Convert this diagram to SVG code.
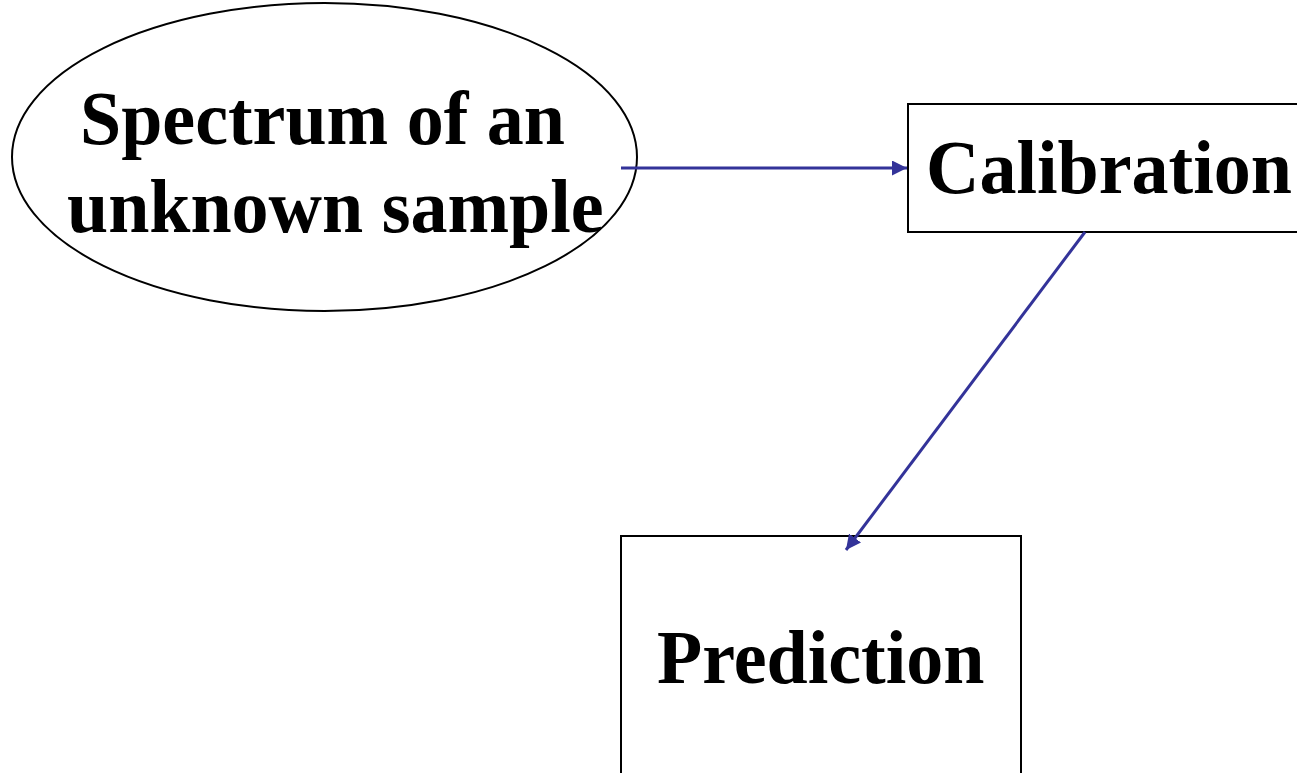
<svg xmlns="http://www.w3.org/2000/svg" width="1297" height="773" viewBox="0 0 1297 773">
  <style>
    .shape { fill: #ffffff; stroke: #000000; stroke-width: 2; }
    .label { font-family: "Liberation Serif", "Times New Roman", serif; font-weight: bold; font-size: 74px; fill: #000000; }
    .conn { stroke: #333399; stroke-width: 3; fill: none; }
  </style>
  <defs>
    <marker id="arrow" viewBox="0 0 10 10" refX="10" refY="5" markerWidth="5" markerHeight="5" markerUnits="strokeWidth" orient="auto">
      <path d="M0,0 L10,5 L0,10 Z" fill="#333399"/>
    </marker>
  </defs>
  <rect width="1297" height="773" fill="#ffffff"/>

  <g id="spectrum">
    <ellipse class="shape" cx="324.5" cy="157" rx="312.5" ry="154" stroke-width="1.5"/>
    <text class="label" transform="translate(80,144) scale(1,1.04)">Spectrum of an</text>
    <text class="label" transform="translate(67,232) scale(1,1.04)">unknown sample</text>
  </g>

  <g id="calibration">
    <rect class="shape" x="908" y="104" width="400" height="128"/>
    <text class="label" transform="translate(926,193) scale(1,1.04)">Calibration</text>
  </g>

  <g id="prediction">
    <rect class="shape" x="621" y="536" width="400" height="260"/>
    <text class="label" transform="translate(657,683) scale(1,1.04)">Prediction</text>
  </g>

  <g id="connectors">
    <line class="conn" x1="621" y1="168" x2="907" y2="168" marker-end="url(#arrow)"/>
    <line class="conn" x1="1085" y1="232" x2="846" y2="550" marker-end="url(#arrow)"/>
  </g>
</svg>
